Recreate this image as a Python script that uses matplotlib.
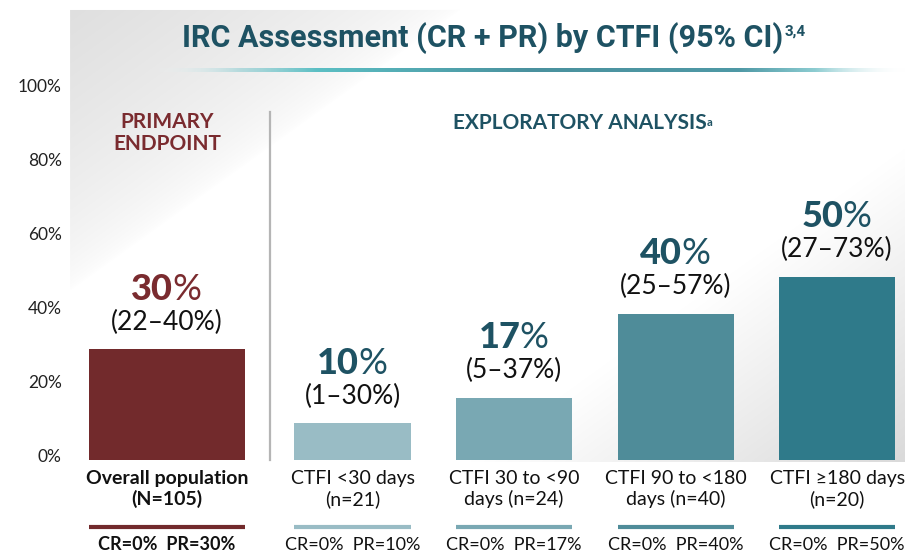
import numpy as np
import matplotlib
matplotlib.use("Agg")
import matplotlib.pyplot as plt
from matplotlib.transforms import blended_transform_factory, ScaledTranslation

# ---------------- data ----------------
categories = ["Overall population\n(N=105)", "CTFI <30 days\n(n=21)", "CTFI 30 to <90\ndays (n=24)",
              "CTFI 90 to <180\ndays (n=40)", "CTFI \u2265180 days\n(n=20)"]
orr_values = [30, 10, 16.8, 39.5, 49.5]
orr_labels = ["30", "10", "17", "40", "50"]
ci_labels = ["(22\u201340%)", "(1\u201330%)", "(5\u201337%)", "(25\u201357%)", "(27\u201373%)"]
cr_values = [0, 0, 0, 0, 0]
pr_values = [30, 10, 17, 40, 50]
yticks = [0, 20, 40, 60, 80, 100]
ytick_labels = ["0%", "20%", "40%", "60%", "80%", "100%"]

# ---------------- styles ----------------
bar_colors = ["#722a2c", "#99bcc5", "#79a8b3", "#4f8c99", "#2f7a8a"]
num_colors = ["#7a2b2f", "#1e5263", "#1e5263", "#1e5263", "#1e5263"]
TEAL_DARK = "#1e5263"
MAROON = "#7a2b2f"
FONT = "Lato"
W, H = 905, 554
DPI = 100

positions = np.array([0.0, 1.15, 2.15, 3.15, 4.15])
widths = [0.97, 0.72, 0.72, 0.72, 0.72]

fig = plt.figure(figsize=(W / DPI, H / DPI), dpi=DPI)
fig.patch.set_facecolor("white")
renderer = fig.canvas.get_renderer()

# ---------------- background panel ----------------
bg = fig.add_axes([0, 0, 1, 1], zorder=-5)
yy, xx = np.mgrid[0:H, 0:W].astype(float)
d = 0.72 * xx + yy
g = np.ones((H, W))
tl = np.clip((340 - d) / 300, 0, 1) ** 0.6
br = np.clip((d - 800) / 320, 0, 1)
g = g - 0.13 * tl - 0.15 * br
mask = (xx >= 70) & (yy >= 10) & (yy <= 461)
g[~mask] = 1.0
img = np.dstack([g, g, g])
bg.imshow(img, extent=(0, W, H, 0), aspect="auto", interpolation="bilinear")
# title gradient rule
xs = np.linspace(0, 1, 800)
stops_x = [0.0, 0.12, 0.22, 0.5, 0.78, 0.88, 1.0]
stops_c = np.array([(1, 1, 1, 0), (0.55, 0.80, 0.82, 0.6), (0.36, 0.75, 0.77, 1), (0.29, 0.57, 0.62, 1),
                    (0.31, 0.60, 0.65, 1), (0.55, 0.80, 0.82, 1), (1, 1, 1, 0)])
strip = np.stack([np.interp(xs, stops_x, stops_c[:, k]) for k in range(4)], axis=-1)[None, :, :]
bg.imshow(strip, extent=(150, 905, 72, 68), aspect="auto", interpolation="bilinear")
bg.set_xlim(0, W)
bg.set_ylim(H, 0)
bg.axis("off")

# ---------------- main axes ----------------
ax = fig.add_axes([70 / W, (H - 460) / H, 835 / W, 370 / H])
ax.set_facecolor("none")
ax.set_xlim(-0.60, 4.57)
ax.set_ylim(0, 100)
ax.bar(positions, orr_values, width=widths, color=bar_colors, zorder=3)
for s in ax.spines.values():
    s.set_visible(False)
ax.set_xticks([])
ax.set_yticks(yticks)
ax.set_yticklabels(ytick_labels, fontsize=12.5, family=FONT, color="#222222")
ax.tick_params(axis="y", length=0, pad=6)
for lab in ax.get_yticklabels():
    lab.set_transform(lab.get_transform() + ScaledTranslation(0, 5 / DPI, fig.dpi_scale_trans))

# separator
ax.plot([0.638, 0.638], [0, 94], color="#b5b5b5", lw=1.6, zorder=2, clip_on=False)

# section headers
ax.text(positions[0], 88.3, "PRIMARY\nENDPOINT", ha="center", va="center", fontsize=15,
        fontweight="bold", family=FONT, color=MAROON, linespacing=1.15)
hdr = ax.text(2.56, 91.2, "EXPLORATORY ANALYSIS", ha="center", va="center", fontsize=15,
              fontweight="bold", family=FONT, color=TEAL_DARK)
ext = hdr.get_window_extent(renderer)
fig.text((ext.x1 - 1) / W, (ext.y1 - 4) / H, "a", ha="left", va="top", fontsize=8,
         fontweight="bold", family=FONT, color=TEAL_DARK)

# value labels
for i, (x, v) in enumerate(zip(positions, orr_values)):
    tb = ax.annotate(orr_labels[i], (x, v), xytext=(0, 60), textcoords="offset pixels",
                     ha="right", va="center", fontsize=26, fontweight="black", family=FONT,
                     color=num_colors[i])
    tp = ax.annotate("%", (x, v), xytext=(0, 60), textcoords="offset pixels",
                     ha="left", va="center", fontsize=26, fontweight="normal", family=FONT,
                     color=num_colors[i])
    wb = tb.get_window_extent(renderer).width
    wp = tp.get_window_extent(renderer).width
    off = (wb - wp) / 2
    tb.set_position((off, 60))
    tp.set_position((off - 1, 60))
    ax.annotate(ci_labels[i], (x, v), xytext=(0, 27), textcoords="offset pixels",
                ha="center", va="center", fontsize=19, family=FONT, color="#111111")

# category labels, underline rules, CR/PR labels
tr = blended_transform_factory(ax.transData, fig.transFigure)
for i, x in enumerate(positions):
    bold = "bold" if i == 0 else "normal"
    ax.text(x, 1 - 489 / H, categories[i], transform=tr, ha="center", va="center",
            fontsize=14, family=FONT, fontweight=bold, color="#111111",
            linespacing=1.2, multialignment="center")
    ax.plot([x - widths[i] / 2, x + widths[i] / 2], [1 - 527 / H] * 2, transform=tr,
            color=bar_colors[i], lw=3, solid_capstyle="butt", clip_on=False)
    ax.text(x, 1 - 545 / H, f"CR={cr_values[i]}%  PR={pr_values[i]}%", transform=tr,
            ha="center", va="center", fontsize=13, family=FONT, fontweight=bold,
            color="#111111")

# title
ttl = fig.text(483 / W, 1 - 38 / H, "IRC Assessment (CR + PR) by CTFI (95% CI)", ha="center",
               va="center", fontsize=22, fontweight="bold", family="Roboto", color=TEAL_DARK)
ext = ttl.get_window_extent(renderer)
fig.text((ext.x1 + 1) / W, (ext.y1 - 3) / H, "3,4", ha="left", va="top", fontsize=11,
         fontweight="bold", family="Roboto", color=TEAL_DARK)

fig.savefig("out.png", dpi=DPI, facecolor="white")
